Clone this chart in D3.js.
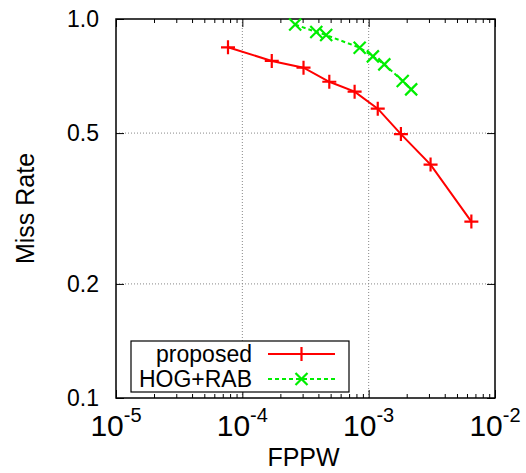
<!DOCTYPE html>
<html>
<head>
<meta charset="utf-8">
<script src="https://cdn.jsdelivr.net/npm/d3@7"></script>
<style>
  body { margin: 0; background: #fff; }
  text { font-family: "Liberation Sans", Arial, sans-serif; fill: #000; }
</style>
</head>
<body>
<svg id="svg"></svg>
<script>
// Data
const proposedFPPW = [7.7e-5, 1.71e-4, 3.05e-4, 4.88e-4, 7.74e-4, 1.18e-3, 1.80e-3, 3.09e-3, 6.5e-3];
const proposedMiss = [0.842, 0.775, 0.744, 0.683, 0.643, 0.580, 0.497, 0.413, 0.292];
const hogFPPW = [2.62e-4, 3.85e-4, 4.61e-4, 8.49e-4, 1.08e-3, 1.33e-3, 1.86e-3, 2.17e-3];
const hogMiss = [0.967, 0.924, 0.907, 0.840, 0.797, 0.759, 0.686, 0.652];

const xMajor = [1e-5, 1e-4, 1e-3, 1e-2];
const xMajorExp = ["-5", "-4", "-3", "-2"];
const yMajor = [0.1, 0.2, 0.5, 1.0];
const yLabels = ["0.1", "0.2", "0.5", "1.0"];
const seriesNames = ["proposed", "HOG+RAB"];

const width = 526, height = 473;
const margin = {left: 116, top: 19, right: 31, bottom: 75};
const pw = width - margin.left - margin.right;
const ph = height - margin.top - margin.bottom;

const svg = d3.select("#svg").attr("width", width).attr("height", height);
const g = svg.append("g").attr("transform", `translate(${margin.left},${margin.top})`);

const x = d3.scaleLog().domain([1e-5, 1e-2]).range([0, pw]);
const y = d3.scaleLog().domain([0.1, 1.0]).range([ph, 0]);

// grid lines (dotted) at inner major ticks
g.selectAll(".xgrid")
    .data(xMajor.slice(1, -1))
    .join("line")
    .attr("x1", d => x(d)).attr("x2", d => x(d))
    .attr("y1", 0).attr("y2", ph)
    .attr("stroke", "#888").attr("stroke-width", 1).attr("stroke-dasharray", "1,2");

g.selectAll(".ygrid")
    .data(yMajor.slice(1, -1))
    .join("line")
    .attr("x1", 0).attr("x2", pw)
    .attr("y1", d => y(d)).attr("y2", d => y(d))
    .attr("stroke", "#888").attr("stroke-width", 1).attr("stroke-dasharray", "1,2");

// tick marks, drawn inward on all four sides
const xMinor = x.ticks().filter(t => !xMajor.some(m => Math.abs(m - t) / m < 1e-6));

function tickAxis(axis, values, size, transform) {
    const a = g.append("g")
        .attr("transform", transform)
        .call(axis.tickValues(values).tickSize(size).tickFormat(""));
    a.select(".domain").remove();
    a.selectAll(".tick line").attr("stroke", "#000").attr("stroke-width", 1);
}
tickAxis(d3.axisBottom(x), xMinor, -4, `translate(0,${ph})`);
tickAxis(d3.axisBottom(x), xMajor, -8, `translate(0,${ph})`);
tickAxis(d3.axisTop(x), xMinor, -4, "translate(0,0)");
tickAxis(d3.axisTop(x), xMajor, -8, "translate(0,0)");
tickAxis(d3.axisLeft(y), yMajor, -8, "translate(0,0)");
tickAxis(d3.axisRight(y), yMajor, -8, `translate(${pw},0)`);

// frame
g.append("rect")
    .attr("width", pw).attr("height", ph)
    .attr("fill", "none").attr("stroke", "#000").attr("stroke-width", 1.5);

// y tick labels
g.selectAll(".ylab")
    .data(yMajor)
    .join("text")
    .attr("x", -17)
    .attr("y", d => y(d))
    .attr("dy", "0.36em")
    .attr("text-anchor", "end")
    .style("font-size", "23px")
    .text((d, i) => yLabels[i]);

// x tick labels 10^k
const xl = g.selectAll(".xlab")
    .data(xMajor)
    .join("text")
    .attr("x", d => x(d))
    .attr("y", ph + 38)
    .attr("text-anchor", "middle");
xl.append("tspan").style("font-size", "30px").text("10");
xl.append("tspan").style("font-size", "20px").attr("dy", -14).text((d, i) => xMajorExp[i]);

// axis titles
svg.append("text")
    .attr("x", margin.left + pw / 2 - 2)
    .attr("y", 466)
    .attr("text-anchor", "middle")
    .style("font-size", "25px")
    .text("FPPW");

svg.append("text")
    .attr("transform", `translate(34,${margin.top + ph / 2}) rotate(-90)`)
    .attr("text-anchor", "middle")
    .style("font-size", "25px")
    .text("Miss Rate");

// series
const line = d3.line().x(d => x(d[0])).y(d => y(d[1]));
const proposed = d3.zip(proposedFPPW, proposedMiss);
const hog = d3.zip(hogFPPW, hogMiss);

const plot = g.append("g");
plot.append("path")
    .datum(proposed)
    .attr("d", line)
    .attr("fill", "none").attr("stroke", "#ff0000").attr("stroke-width", 2);
plot.append("path")
    .datum(hog)
    .attr("d", line)
    .attr("fill", "none").attr("stroke", "#00ee00").attr("stroke-width", 2)
    .attr("stroke-dasharray", "4,3");

function plus(sel, s, color) {
    sel.append("path")
        .attr("d", `M${-s},0H${s}M0,${-s}V${s}`)
        .attr("stroke", color).attr("stroke-width", 2.2).attr("fill", "none");
}
function cross(sel, s, color) {
    sel.append("path")
        .attr("d", `M${-s},${-s}L${s},${s}M${-s},${s}L${s},${-s}`)
        .attr("stroke", color).attr("stroke-width", 2.2).attr("fill", "none");
}

plot.selectAll(".pm")
    .data(proposed)
    .join("g")
    .attr("transform", d => `translate(${x(d[0])},${y(d[1])})`)
    .each(function () { plus(d3.select(this), 7, "#ff0000"); });

plot.selectAll(".hm")
    .data(hog)
    .join("g")
    .attr("transform", d => `translate(${x(d[0])},${y(d[1])})`)
    .each(function () { cross(d3.select(this), 6, "#00ee00"); });

// legend
const lg = svg.append("g");
lg.append("rect")
    .attr("x", 131).attr("y", 341).attr("width", 218).attr("height", 51)
    .attr("fill", "#fff").attr("stroke", "#000").attr("stroke-width", 1.2);

const rows = [
    {name: seriesNames[0], color: "#ff0000", dash: null, mark: plus, y: 354},
    {name: seriesNames[1], color: "#00ee00", dash: "4,3", mark: cross, y: 379}
];
rows.forEach(r => {
    lg.append("text")
        .attr("x", 252).attr("y", r.y).attr("dy", "0.36em")
        .attr("text-anchor", "end")
        .style("font-size", "23px")
        .text(r.name);
    lg.append("line")
        .attr("x1", 268).attr("x2", 335).attr("y1", r.y).attr("y2", r.y)
        .attr("stroke", r.color).attr("stroke-width", 2)
        .attr("stroke-dasharray", r.dash);
    const m = lg.append("g").attr("transform", `translate(301.5,${r.y})`);
    r.mark(m, r.mark === plus ? 7 : 6, r.color);
});
</script>
</body>
</html>
